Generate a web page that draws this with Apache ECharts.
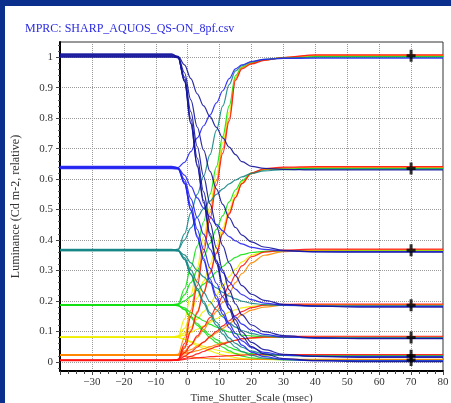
<!DOCTYPE html>
<html><head><meta charset="utf-8">
<script src="https://cdn.jsdelivr.net/npm/echarts@6/dist/echarts.min.js"></script>
<style>
html,body{margin:0;padding:0;background:#0a2f8c;width:451px;height:403px;overflow:hidden}
#c{position:absolute;left:5px;top:6px;width:446px;height:397px;background:#fff}
</style></head><body><div id="c"></div>
<script>
// time grid (msec) shared by all traces
const T = [-40, -5, -3, -1, 1, 3, 5, 7, 9, 11, 13, 15, 17, 20, 24, 30, 40, 55, 80];

// traces starting at 1.0 (navy)
const fromNavy = {
  toB:  [1.004, 1.004, 1.003, 0.975, 0.930, 0.880, 0.840, 0.805, 0.770, 0.735, 0.705, 0.680, 0.657, 0.642, 0.635, 0.632, 0.630, 0.630, 0.630],
  toTe: [1.009, 1.009, 1.002, 0.949, 0.860, 0.771, 0.695, 0.625, 0.568, 0.517, 0.473, 0.441, 0.416, 0.394, 0.377, 0.366, 0.361, 0.360, 0.360],
  toG:  [1.000, 1.000, 1.000, 0.935, 0.821, 0.707, 0.609, 0.519, 0.446, 0.381, 0.324, 0.283, 0.250, 0.222, 0.202, 0.189, 0.183, 0.180, 0.180],
  toY:  [1.006, 1.006, 0.998, 0.926, 0.798, 0.669, 0.558, 0.457, 0.374, 0.301, 0.236, 0.190, 0.154, 0.121, 0.099, 0.086, 0.079, 0.076, 0.076],
  toO:  [1.011, 1.011, 1.001, 0.922, 0.784, 0.647, 0.530, 0.422, 0.334, 0.255, 0.187, 0.138, 0.098, 0.064, 0.040, 0.025, 0.018, 0.015, 0.015],
  toR:  [1.002, 1.002, 0.999, 0.920, 0.781, 0.642, 0.522, 0.413, 0.323, 0.244, 0.174, 0.124, 0.084, 0.050, 0.026, 0.011, 0.004, 0.001, 0.001]
};
// traces starting at 0.635 (blue)
const fromBlue = {
  toN:  [0.640, 0.640, 0.638, 0.655, 0.690, 0.735, 0.775, 0.810, 0.850, 0.890, 0.930, 0.962, 0.975, 0.986, 0.993, 0.996, 0.997, 0.997, 0.997],
  toTe: [0.638, 0.638, 0.636, 0.613, 0.576, 0.538, 0.505, 0.476, 0.451, 0.430, 0.411, 0.397, 0.387, 0.376, 0.369, 0.364, 0.362, 0.362, 0.362],
  toG:  [0.636, 0.636, 0.635, 0.599, 0.536, 0.473, 0.419, 0.370, 0.329, 0.293, 0.262, 0.239, 0.221, 0.204, 0.193, 0.186, 0.183, 0.182, 0.182],
  toY:  [0.642, 0.642, 0.637, 0.591, 0.513, 0.435, 0.369, 0.308, 0.258, 0.213, 0.174, 0.147, 0.124, 0.104, 0.090, 0.082, 0.078, 0.077, 0.077],
  toO:  [0.637, 0.637, 0.634, 0.586, 0.500, 0.414, 0.340, 0.272, 0.217, 0.168, 0.125, 0.094, 0.069, 0.047, 0.031, 0.022, 0.018, 0.017, 0.017],
  toR:  [0.634, 0.634, 0.633, 0.585, 0.496, 0.408, 0.333, 0.263, 0.207, 0.156, 0.112, 0.081, 0.055, 0.032, 0.017, 0.008, 0.004, 0.003, 0.003]
};
// traces starting at 0.365 (teal)
const fromTeal = {
  toN:  [0.366, 0.366, 0.370, 0.420, 0.490, 0.550, 0.610, 0.680, 0.760, 0.840, 0.910, 0.955, 0.972, 0.985, 0.993, 0.998, 1.000, 1.000, 1.000],
  toB:  [0.368, 0.368, 0.368, 0.400, 0.440, 0.475, 0.503, 0.528, 0.550, 0.568, 0.584, 0.597, 0.607, 0.619, 0.627, 0.631, 0.633, 0.633, 0.633],
  toG:  [0.365, 0.365, 0.365, 0.351, 0.325, 0.300, 0.279, 0.259, 0.243, 0.228, 0.216, 0.207, 0.199, 0.192, 0.188, 0.185, 0.184, 0.184, 0.184],
  toY:  [0.369, 0.369, 0.366, 0.342, 0.302, 0.262, 0.228, 0.197, 0.171, 0.148, 0.128, 0.114, 0.103, 0.093, 0.085, 0.081, 0.079, 0.079, 0.079],
  toO:  [0.368, 0.368, 0.364, 0.337, 0.289, 0.241, 0.199, 0.161, 0.130, 0.103, 0.079, 0.061, 0.048, 0.035, 0.026, 0.021, 0.019, 0.019, 0.019],
  toR:  [0.365, 0.365, 0.365, 0.336, 0.286, 0.235, 0.192, 0.153, 0.120, 0.091, 0.066, 0.048, 0.034, 0.021, 0.012, 0.007, 0.005, 0.004, 0.004]
};
// traces starting at 0.185 (green)
const fromGreen = {
  toN:  [0.186, 0.186, 0.190, 0.240, 0.310, 0.380, 0.460, 0.550, 0.640, 0.740, 0.840, 0.940, 0.968, 0.981, 0.991, 0.998, 1.002, 1.002, 1.002],
  toB:  [0.188, 0.188, 0.190, 0.220, 0.260, 0.300, 0.345, 0.390, 0.435, 0.480, 0.525, 0.565, 0.595, 0.620, 0.631, 0.634, 0.635, 0.635, 0.635],
  toTe: [0.185, 0.185, 0.188, 0.200, 0.215, 0.235, 0.255, 0.275, 0.295, 0.313, 0.330, 0.343, 0.352, 0.359, 0.363, 0.364, 0.364, 0.364, 0.364],
  toY:  [0.187, 0.187, 0.185, 0.177, 0.162, 0.147, 0.135, 0.123, 0.114, 0.105, 0.098, 0.093, 0.088, 0.085, 0.082, 0.081, 0.080, 0.080, 0.080],
  toO:  [0.188, 0.188, 0.184, 0.172, 0.149, 0.126, 0.106, 0.088, 0.073, 0.060, 0.048, 0.040, 0.033, 0.027, 0.023, 0.021, 0.020, 0.020, 0.020],
  toR:  [0.185, 0.185, 0.185, 0.171, 0.145, 0.120, 0.099, 0.079, 0.063, 0.048, 0.036, 0.027, 0.019, 0.013, 0.009, 0.007, 0.006, 0.006, 0.006]
};
// traces starting at 0.08 (yellow)
const fromYellow = {
  toN:  [0.081, 0.081, 0.085, 0.140, 0.220, 0.310, 0.410, 0.510, 0.615, 0.720, 0.820, 0.935, 0.966, 0.980, 0.991, 0.999, 1.004, 1.004, 1.004],
  toB:  [0.080, 0.080, 0.083, 0.110, 0.160, 0.210, 0.265, 0.320, 0.380, 0.440, 0.500, 0.550, 0.590, 0.620, 0.632, 0.636, 0.637, 0.637, 0.637],
  toTe: [0.080, 0.080, 0.082, 0.095, 0.115, 0.140, 0.165, 0.190, 0.220, 0.250, 0.280, 0.305, 0.328, 0.350, 0.362, 0.365, 0.366, 0.366, 0.366],
  toG:  [0.081, 0.081, 0.082, 0.088, 0.097, 0.107, 0.118, 0.130, 0.142, 0.153, 0.163, 0.171, 0.177, 0.182, 0.185, 0.186, 0.186, 0.186, 0.186],
  toO:  [0.082, 0.082, 0.080, 0.075, 0.067, 0.058, 0.051, 0.045, 0.039, 0.034, 0.030, 0.027, 0.025, 0.024, 0.023, 0.022, 0.022, 0.022, 0.022],
  toR:  [0.080, 0.080, 0.080, 0.074, 0.064, 0.053, 0.044, 0.036, 0.029, 0.023, 0.018, 0.014, 0.011, 0.009, 0.008, 0.007, 0.007, 0.007, 0.007]
};
// traces starting at 0.02 (orange)
const fromOrange = {
  toN:  [0.022, 0.022, 0.025, 0.080, 0.170, 0.270, 0.380, 0.490, 0.595, 0.700, 0.800, 0.930, 0.965, 0.980, 0.991, 0.999, 1.006, 1.006, 1.006],
  toB:  [0.023, 0.023, 0.024, 0.050, 0.105, 0.165, 0.230, 0.295, 0.360, 0.425, 0.490, 0.540, 0.585, 0.618, 0.632, 0.637, 0.639, 0.639, 0.639],
  toTe: [0.021, 0.021, 0.024, 0.035, 0.055, 0.080, 0.105, 0.135, 0.165, 0.195, 0.225, 0.260, 0.290, 0.325, 0.350, 0.362, 0.367, 0.368, 0.368],
  toG:  [0.022, 0.022, 0.023, 0.030, 0.040, 0.052, 0.065, 0.080, 0.095, 0.110, 0.125, 0.140, 0.155, 0.170, 0.180, 0.186, 0.188, 0.188, 0.188],
  toY:  [0.024, 0.024, 0.022, 0.026, 0.031, 0.037, 0.043, 0.050, 0.056, 0.062, 0.067, 0.071, 0.075, 0.078, 0.080, 0.081, 0.082, 0.082, 0.082],
  toR:  [0.022, 0.022, 0.021, 0.019, 0.016, 0.014, 0.012, 0.010, 0.009, 0.008, 0.008, 0.008, 0.008, 0.008, 0.008, 0.008, 0.008, 0.008, 0.008]
};
// traces starting at 0.005 (red)
const fromRed = {
  toN:  [0.005, 0.005, 0.008, 0.060, 0.150, 0.250, 0.360, 0.470, 0.580, 0.685, 0.790, 0.925, 0.962, 0.978, 0.990, 0.999, 1.008, 1.008, 1.008],
  toB:  [0.006, 0.006, 0.008, 0.045, 0.100, 0.160, 0.225, 0.290, 0.355, 0.420, 0.485, 0.540, 0.585, 0.620, 0.634, 0.639, 0.641, 0.641, 0.641],
  toTe: [0.004, 0.004, 0.007, 0.030, 0.055, 0.085, 0.115, 0.145, 0.180, 0.215, 0.250, 0.285, 0.315, 0.345, 0.360, 0.367, 0.370, 0.370, 0.370],
  toG:  [0.005, 0.005, 0.006, 0.018, 0.032, 0.048, 0.065, 0.083, 0.100, 0.118, 0.135, 0.152, 0.165, 0.178, 0.186, 0.189, 0.190, 0.190, 0.190],
  toY:  [0.006, 0.006, 0.006, 0.011, 0.018, 0.026, 0.034, 0.042, 0.050, 0.058, 0.065, 0.071, 0.076, 0.079, 0.082, 0.083, 0.084, 0.084, 0.084],
  toO:  [0.005, 0.005, 0.005, 0.008, 0.011, 0.013, 0.015, 0.017, 0.018, 0.019, 0.020, 0.021, 0.022, 0.023, 0.024, 0.024, 0.024, 0.024, 0.024]
};

// target markers at t = 70
const markerT = [70, 70, 70, 70, 70, 70, 70];
const markerLevels = [1.005, 0.635, 0.366, 0.186, 0.080, 0.020, 0.006];

// y-axis tick positions
const yTickValues = [0, 0.1, 0.2, 0.3, 0.4, 0.5, 0.6, 0.7, 0.8, 0.9, 1];
const yMinorTickValues = [-0.02, 0.02, 0.04, 0.06, 0.08, 0.12, 0.14, 0.16, 0.18, 0.22, 0.24, 0.26, 0.28,
  0.32, 0.34, 0.36, 0.38, 0.42, 0.44, 0.46, 0.48, 0.52, 0.54, 0.56, 0.58, 0.62, 0.64, 0.66, 0.68,
  0.72, 0.74, 0.76, 0.78, 0.82, 0.84, 0.86, 0.88, 0.92, 0.94, 0.96, 0.98, 1.02, 1.04];

const groups = [
  {name: 'yellow', color: '#eeee00', set: fromYellow},
  {name: 'green',  color: '#12e012', set: fromGreen},
  {name: 'orange', color: '#ff8800', set: fromOrange},
  {name: 'red',    color: '#ff1414', set: fromRed},
  {name: 'teal',   color: '#168686', set: fromTeal},
  {name: 'blue',   color: '#2424f2', set: fromBlue},
  {name: 'navy',   color: '#14149c', set: fromNavy}
];

const series = [];
groups.forEach(g => {
  Object.keys(g.set).forEach(k => {
    series.push({
      type: 'line', name: g.name + '-' + k,
      data: T.map((t, i) => [t, g.set[k][i]]),
      showSymbol: false, symbol: 'none',
      smooth: 0.35, smoothMonotone: 'x',
      lineStyle: {color: g.color, width: 1.2, opacity: 0.9},
      z: 2, silent: true
    });
  });
});
series.push({
  type: 'scatter', name: 'markers',
  data: markerT.map((t, i) => [t, markerLevels[i]]),
  symbol: 'path://M3,0H6V4.5H9V7.5H6V12H3V7.5H0V4.5H3Z',
  symbolSize: [9, 12],
  itemStyle: {color: '#000'}, z: 5, silent: true
});

const serif = 'Liberation Serif';
const chart = echarts.init(document.getElementById('c'), null, {renderer: 'canvas'});
chart.setOption({
  animation: false,
  backgroundColor: '#fff',
  title: {
    text: 'MPRC: SHARP_AQUOS_QS-ON_8pf.csv',
    left: 20, top: 17, padding: 0,
    textStyle: {fontFamily: serif, fontSize: 12, fontWeight: 'normal', color: '#2b2be2'}
  },
  grid: {left: 55, right: 8, top: 36, bottom: 32, show: true, borderColor: '#333', borderWidth: 1,
         backgroundColor: 'transparent', containLabel: false, outerBoundsMode: 'none'},
  xAxis: {
    type: 'value', min: -40, max: 80, interval: 10,
    name: 'Time_Shutter_Scale (msec)', nameLocation: 'middle', nameGap: 17,
    nameTextStyle: {fontFamily: serif, fontSize: 11, color: '#333'},
    axisLine: {show: true, onZero: false, lineStyle: {color: '#000', width: 2}},
    axisTick: {show: true, length: 4, lineStyle: {color: '#444'}},
    minorTick: {show: true, splitNumber: 4, length: 3, lineStyle: {color: '#444'}},
    axisLabel: {
      showMinLabel: false, margin: 6,
      fontFamily: serif, fontSize: 11, color: '#333',
      formatter: v => (v === -40 ? '' : String(v).replace('-', '\u2212'))
    },
    splitLine: {show: true, lineStyle: {color: '#9a9a9a', type: 'dotted', width: 1}}
  },
  yAxis: [{
    type: 'value', min: -0.03, max: 1.05,
    name: 'Luminance (Cd m-2, relative)', nameLocation: 'middle', nameGap: 38,
    nameTextStyle: {fontFamily: serif, fontSize: 12, color: '#333'},
    axisLine: {show: true, onZero: false, lineStyle: {color: '#000', width: 2}},
    axisTick: {show: true, length: 4, customValues: yTickValues, lineStyle: {color: '#444'}},
    minorTick: {show: false},
    axisLabel: {
      customValues: yTickValues, margin: 7,
      fontFamily: serif, fontSize: 11, color: '#333',
      formatter: v => String(+(+v).toFixed(1))
    },
    splitLine: {show: true, lineStyle: {color: '#9a9a9a', type: 'dotted', width: 1}}
  }, {
    type: 'value', min: -0.03, max: 1.05, position: 'left', offset: 0,
    axisLine: {show: false, onZero: false},
    axisTick: {show: true, length: 2, customValues: yMinorTickValues, lineStyle: {color: '#555'}},
    axisLabel: {show: false},
    splitLine: {show: false}
  }],
  series: series
});
</script></body></html>
